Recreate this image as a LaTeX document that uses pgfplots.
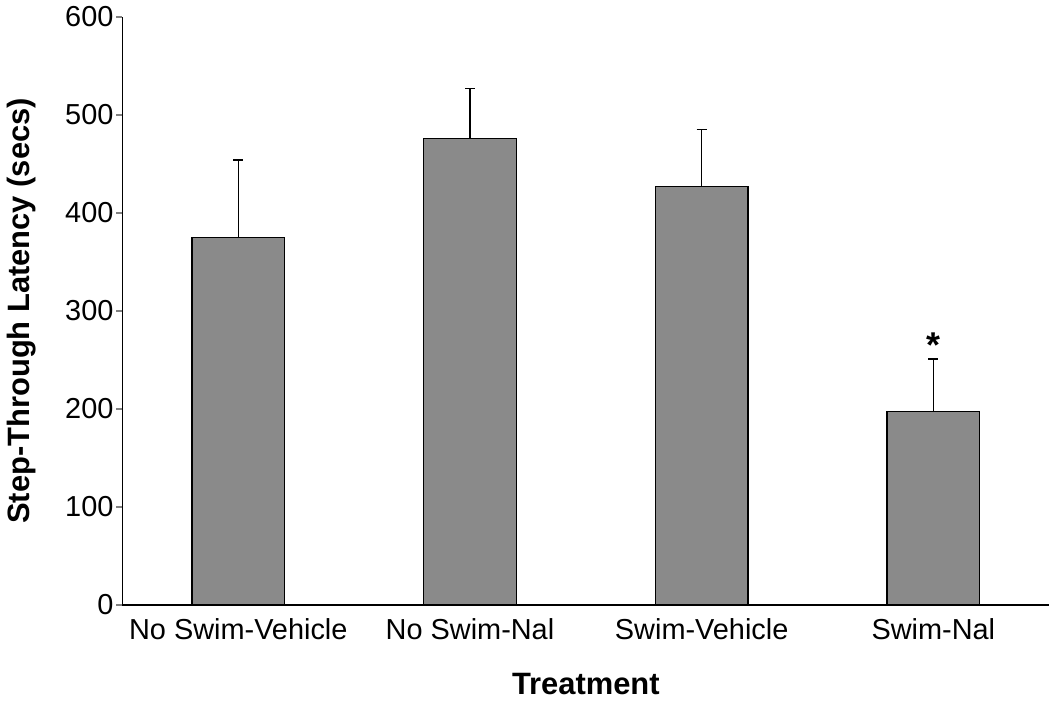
\documentclass[border=0pt]{standalone}
\usepackage{pgfplots}
\pgfplotsset{compat=1.18}
\usepackage{fontspec}
\setmainfont{Liberation Sans}
\definecolor{barfill}{HTML}{8A8A8A}
\begin{document}
\begin{tikzpicture}
\begin{axis}[
  scale only axis,
  width=465pt, height=295pt,
  xmin=-0.5, xmax=3.5,
  ymin=0, ymax=600,
  axis x line*=bottom,
  axis y line*=left,
  axis line style={line width=0.8pt},
  xtick=data,
  xticklabels={No Swim-Vehicle, No Swim-Nal, Swim-Vehicle, Swim-Nal},
  x tick style={draw=none},
  ytick={0,100,...,600},
  tick align=outside,
  major tick length=3pt,
  y tick style={line width=0.8pt},
  /pgf/number format/assume math mode=true,
  tick label style={font=\fontsize{14.5}{16}\selectfont},
  xticklabel style={yshift=-0.5pt},
  yticklabel style={xshift=2pt},
  xlabel={\textbf{Treatment}},
  ylabel={\textbf{Step-Through Latency (secs)}},
  label style={font=\fontsize{15.5}{17}\selectfont},
  xlabel style={yshift=-10pt},
  ylabel style={yshift=8pt},
  clip=false,
]
\addplot[ybar, bar width=0.40, fill=barfill, draw=black, line width=0.6pt,
  error bars/.cd, y dir=plus, y explicit,
  error bar style={line width=0.7pt, black},
  error mark options={rotate=90, mark size=2.5pt, line width=0.7pt}]
  table[x=x, y=y, y error=e] {
  x y e
  0 375 79
  1 476 51
  2 427 58
  3 197 54
  };
\node[font=\fontsize{18}{20}\selectfont\bfseries] at (axis cs:3,265) {*};
\end{axis}
\end{tikzpicture}
\end{document}
